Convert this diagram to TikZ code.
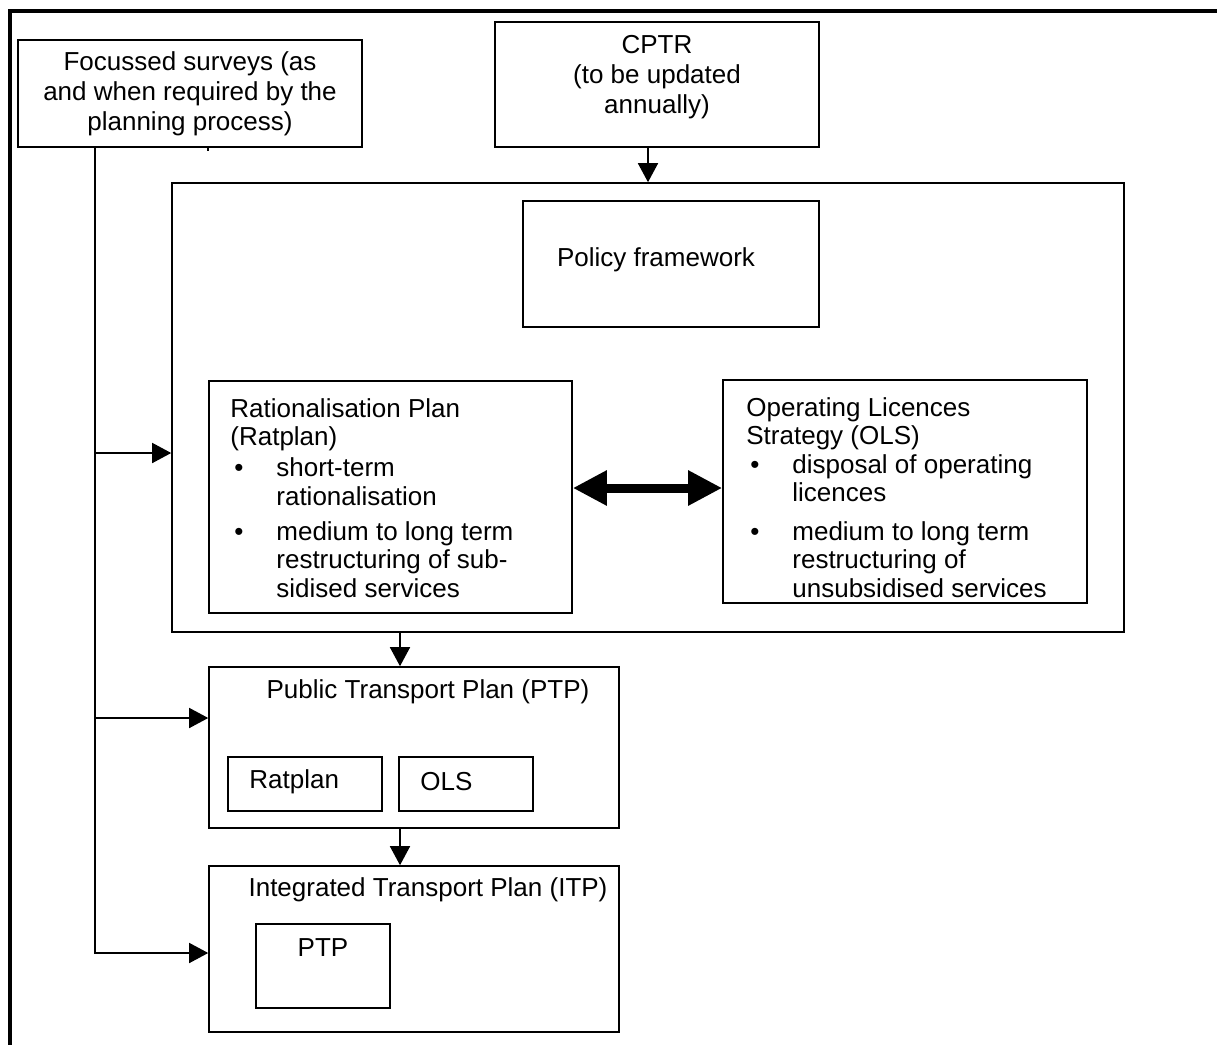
\documentclass[tikz,border=0pt]{standalone}
\usepackage{fontspec}
\setmainfont{Liberation Sans}
\usetikzlibrary{arrows.meta}
\newcommand\itembul{\hspace*{2pt}\makebox[21pt][l]{\textbullet}}
\newcommand\itemind{\hspace*{23pt}}
\tikzset{
  box/.style={draw, line width=0.8pt, inner sep=0pt},
  arr/.style={line width=0.8pt, -{Triangle[length=9.5pt,width=10pt]}},
  listtxt/.style={anchor=base west, align=left, inner sep=0pt, font=\fontsize{13}{14.25}\selectfont},
}
\begin{document}
\begin{tikzpicture}[x=0.5pt,y=-0.5pt,font=\fontsize{13}{15}\selectfont]
\useasboundingbox (0,0) rectangle (1217,1045);
% outer frame
\draw[line width=1.75pt] (1217,11) -| (10,1045);
% top boxes
\node[box, minimum width=172pt, minimum height=53.5pt, align=center] (surveys) at (190,93.5)
  {Focussed surveys (as\\and when required by the\\planning process)};
\node[box, minimum width=162pt, minimum height=62.5pt] (cptr) at (657,84.5) {};
\node[align=center, inner sep=0pt] (cptrtxt) at (657,77) {CPTR\\(to be updated\\annually)};
\draw[line width=1pt] (208,147) -- (208,151);
% policy framework and the two plans
\node[box, minimum width=476pt, minimum height=224.5pt] (framework) at (648,407.5) {};
\node[box, minimum width=148pt, minimum height=63pt] (policy) at (671,264) {};
\node[inner sep=0pt] (policytxt) at (656,260) {Policy framework};
\node[box, minimum width=181.5pt, minimum height=116pt] (ratbox) at (390.5,497) {};
\node[listtxt] (rattxt) at (230,597) {Rationalisation Plan\\(Ratplan)\\[1.25pt]%
  \itembul short-term\\\itemind rationalisation\\[3.25pt]%
  \itembul medium to long term\\\itemind restructuring of sub-\\\itemind sidised services};
\node[box, minimum width=182pt, minimum height=111.5pt] (olsbox) at (905,491.5) {};
\node[listtxt] (olstxt) at (746,597) {Operating Licences\\Strategy (OLS)\\[0pt]%
  \itembul disposal of operating\\\itemind licences\\[5pt]%
  \itembul medium to long term\\\itemind restructuring of\\\itemind unsubsidised services};
% public transport plan
\node[box, minimum width=205pt, minimum height=80.5pt] (ptp) at (414,747.5) {};
\node[inner sep=0pt] (ptptxt) at (428,692) {Public Transport Plan (PTP)};
\node[box, minimum width=77pt, minimum height=27pt] (ptprat) at (305,784) {};
\node[anchor=west, inner sep=0pt] (ptprattxt) at (249,782) {Ratplan};
\node[box, minimum width=67pt, minimum height=27pt] (ptpols) at (466,784) {};
\node[anchor=west, inner sep=0pt] (ptpolstxt) at (420,782) {OLS};
% integrated transport plan
\node[box, minimum width=205pt, minimum height=83pt] (itp) at (414,949) {};
\node[inner sep=0pt] (itptxt) at (428,890) {Integrated Transport Plan (ITP)};
\node[box, minimum width=67pt, minimum height=42pt] (itpptp) at (323,966) {};
\node[inner sep=0pt] (itpptptxt) at (323,948) {PTP};
% arrows down the middle
\coordinate (colx) at (400,0);
\draw[arr] (cptr.south -| framework.north) -- (framework.north);
\draw[arr] (framework.south -| colx) -- (ptp.north -| colx);
\draw[arr] (ptp.south -| colx) -- (itp.north -| colx);
% ratplan <-> ols
\coordinate (dbl) at (0,488);
\draw[line width=4.5pt, {Triangle[length=17pt,width=16.5pt]}-{Triangle[length=17pt,width=16.5pt]}]
  (ratbox.east |- dbl) -- (olsbox.west |- dbl);
% survey feeder on the left
\coordinate (b1) at (95,453);
\coordinate (b2) at (95,718);
\coordinate (b3) at (95,953);
\draw[arr] (surveys.south -| b3) -- (b3) -- (b3 -| itp.west);
\draw[arr] (b1) -- (b1 -| framework.west);
\draw[arr] (b2) -- (b2 -| ptp.west);
\end{tikzpicture}
\end{document}
